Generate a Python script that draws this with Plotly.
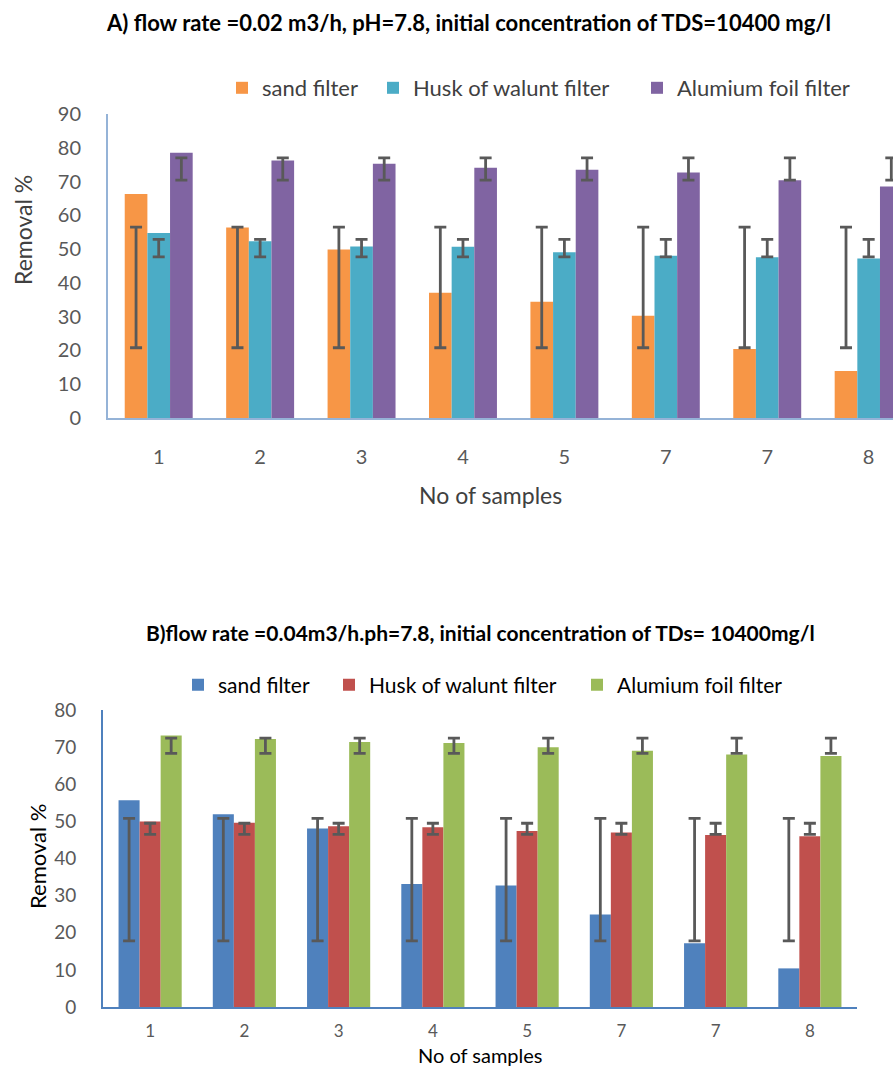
import plotly.graph_objects as go

categories = ["1", "2", "3", "4", "5", "7", "7", "8"]
series_names = ["sand filter", "Husk of walunt filter", "Alumium foil filter"]

# Chart A: flow rate 0.02 m3/h
a_sand = [66.3, 56.4, 49.9, 37.1, 34.4, 30.3, 20.4, 13.9]
a_husk = [54.8, 52.3, 50.8, 50.7, 49.1, 48.0, 47.6, 47.2]
a_foil = [78.5, 76.2, 75.3, 74.1, 73.5, 72.7, 70.4, 68.5]
a_sand_err_low = [20.8, 20.8, 20.8, 20.8, 20.8, 20.8, 20.8, 20.8]
a_sand_err_high = [56.5, 56.5, 56.5, 56.5, 56.5, 56.5, 56.5, 56.5]
a_husk_err_low = [47.7, 47.7, 47.7, 47.7, 47.7, 47.7, 47.7, 47.7]
a_husk_err_high = [52.9, 52.9, 52.9, 52.9, 52.9, 52.9, 52.9, 52.9]
a_foil_err_low = [70.4, 70.4, 70.4, 70.4, 70.4, 70.4, 70.4, 70.4]
a_foil_err_high = [77.0, 77.0, 77.0, 77.0, 77.0, 77.0, 77.0, 77.0]

# Chart B: flow rate 0.04 m3/h
b_sand = [55.7, 51.9, 48.1, 33.1, 32.7, 24.9, 17.2, 10.4]
b_husk = [50.0, 49.6, 48.7, 48.4, 47.4, 47.0, 46.3, 46.0]
b_foil = [73.1, 72.2, 71.4, 71.1, 70.0, 69.0, 68.0, 67.6]
b_sand_err_low = [17.8, 17.8, 17.8, 17.8, 17.8, 17.8, 17.8, 17.8]
b_sand_err_high = [50.8, 50.8, 50.8, 50.8, 50.8, 50.8, 50.8, 50.8]
b_husk_err_low = [46.5, 46.5, 46.5, 46.5, 46.5, 46.5, 46.5, 46.5]
b_husk_err_high = [49.5, 49.5, 49.5, 49.5, 49.5, 49.5, 49.5, 49.5]
b_foil_err_low = [68.3, 68.3, 68.3, 68.3, 68.3, 68.3, 68.3, 68.3]
b_foil_err_high = [72.4, 72.4, 72.4, 72.4, 72.4, 72.4, 72.4, 72.4]

title_a = "A) flow rate =0.02 m3/h, pH=7.8, initial concentration of TDS=10400 mg/l"
title_b = "B)flow rate =0.04m3/h.ph=7.8, initial concentration of TDs= 10400mg/l"
x_title = "No of samples"
y_title = "Removal %"

colors_a = ["#F79646", "#4BACC6", "#8064A2"]
colors_b = ["#4F81BD", "#C0504D", "#9BBB59"]

FONT = "Lato, 'Open Sans', sans-serif"
BARGAP = 0.33
bar_w = (1 - BARGAP) / 3
idx = list(range(len(categories)))

W, H = 893, 1070


def py(px):
    return (H - px) / H


fig = go.Figure()
legend_layouts = {}


def add_chart(values, lows, highs, colors, xa, ya, legend_names, legend_x, legend_y, lsize, lcolor):
    for k, (vals, name, col) in enumerate(zip(values, series_names, colors)):
        lg = legend_names[k]
        fig.add_trace(go.Bar(
            x=idx, y=vals, name=name, marker=dict(color=col, line=dict(width=0)),
            xaxis=xa, yaxis=ya, legend=lg, width=bar_w,
        ))
        legend_layouts[lg] = dict(orientation="h", x=legend_x[k] / W, y=py(legend_y),
                                  xanchor="left", yanchor="middle",
                                  font=dict(size=lsize, color=lcolor, family=FONT),
                                  bgcolor="rgba(0,0,0,0)")
    for k, (lo, hi) in enumerate(zip(lows, highs)):
        offs = (k - 1) * bar_w
        mid = [(l + h) / 2 for l, h in zip(lo, hi)]
        half = [(h - l) / 2 for l, h in zip(lo, hi)]
        fig.add_trace(go.Scatter(
            x=[i + offs for i in idx], y=mid, mode="markers",
            marker=dict(size=1, color="rgba(0,0,0,0)"),
            error_y=dict(type="data", array=half, symmetric=True,
                         color="#595959", thickness=2.8, width=6),
            xaxis=xa, yaxis=ya, showlegend=False, hoverinfo="skip",
        ))


add_chart([a_sand, a_husk, a_foil],
          [a_sand_err_low, a_husk_err_low, a_foil_err_low],
          [a_sand_err_high, a_husk_err_high, a_foil_err_high],
          colors_a, "x", "y", ["legend", "legend2", "legend3"],
          [222, 373, 637], 88, 22, "#404040")
add_chart([b_sand, b_husk, b_foil],
          [b_sand_err_low, b_husk_err_low, b_foil_err_low],
          [b_sand_err_high, b_husk_err_high, b_foil_err_high],
          colors_b, "x2", "y2", ["legend4", "legend5", "legend6"],
          [178, 329, 577], 685, 21, "#000000")


def ann(text, x, y, size, color="#000000", angle=0, bold=False):
    return dict(text=("<b>%s</b>" % text) if bold else text,
                x=x / W, y=py(y), xref="paper", yref="paper",
                showarrow=False, xanchor="center", yanchor="middle", textangle=angle,
                font=dict(size=size, color=color, family=FONT))


common_axis = dict(showgrid=False, zeroline=False, automargin=False,
                   ticks="outside", tickcolor="rgba(0,0,0,0)")

fig.update_layout(
    width=W, height=H,
    margin=dict(l=0, r=0, t=0, b=0, autoexpand=False),
    paper_bgcolor="white", plot_bgcolor="white",
    barmode="group", bargap=BARGAP, bargroupgap=0,
    font=dict(family=FONT, color="#000000"),
    xaxis=dict(domain=[108 / W, 1.0], range=[-0.5, 7.24], anchor="y",
               tickmode="array", tickvals=idx, ticktext=categories,
               showline=True, linecolor="#95B3D7", linewidth=2, ticklen=20,
               tickfont=dict(size=20, color="#595959", family=FONT), **common_axis),
    yaxis=dict(domain=[py(418), py(114)], range=[0, 90], dtick=10, anchor="x",
               showline=True, linecolor="#95B3D7", linewidth=2, ticklen=21,
               tickfont=dict(size=20, color="#595959", family=FONT), **common_axis),
    xaxis2=dict(domain=[103 / W, 857 / W], range=[-0.5, 7.5], anchor="y2",
                tickmode="array", tickvals=idx, ticktext=categories,
                showline=True, linecolor="#4F81BD", linewidth=2, ticklen=8,
                tickfont=dict(size=17, color="#595959", family=FONT), **common_axis),
    yaxis2=dict(domain=[py(1007), py(710)], range=[0, 80], dtick=10, anchor="x2",
                showline=True, linecolor="#4F81BD", linewidth=2, ticklen=21,
                tickfont=dict(size=19, color="#595959", family=FONT), **common_axis),
    annotations=[
        ann(title_a, 468, 22, 22, bold=True),
        ann(title_b, 480, 632, 21, bold=True),
        ann(x_title, 490, 495, 23, color="#404040"),
        ann(y_title, 23, 230, 23, color="#404040", angle=-90),
        ann(x_title, 480, 1055, 20),
        ann(y_title, 37, 857, 22, angle=-90),
    ],
)
fig.update_layout(**legend_layouts)

fig.write_html("out.html", config={"displayModeBar": False},
               post_script="document.body.style.margin='0';document.body.style.overflow='hidden';")
